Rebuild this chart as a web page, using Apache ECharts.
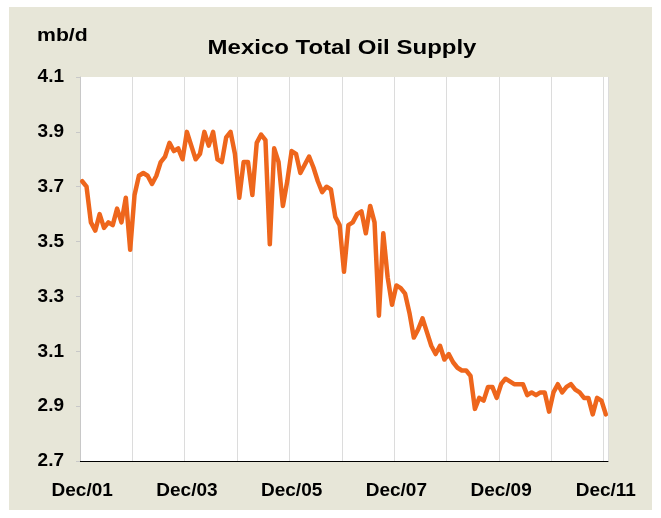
<!DOCTYPE html>
<html>
<head>
<meta charset="utf-8">
<script src="https://cdn.jsdelivr.net/npm/echarts@6/dist/echarts.min.js"></script>
<style>
  html, body { margin: 0; padding: 0; background: #fff; }
  #chart { width: 661px; height: 518px; }
</style>
</head>
<body>
<div id="chart"></div>
<script>
// monthly supply, Dec/01 .. Dec/11 (mb/d)
var supply = [
  3.72, 3.70, 3.57, 3.54, 3.60, 3.55, 3.57, 3.56, 3.62, 3.57, 3.66, 3.47,
  3.67, 3.74, 3.75, 3.74, 3.71, 3.74, 3.79, 3.81, 3.86, 3.83, 3.84, 3.80,
  3.90, 3.85, 3.80, 3.82, 3.90, 3.85, 3.90, 3.80, 3.79, 3.88, 3.90, 3.82,
  3.66, 3.79, 3.79, 3.67, 3.86, 3.89, 3.87, 3.49, 3.84, 3.79, 3.63, 3.72,
  3.83, 3.82, 3.75, 3.78, 3.81, 3.77, 3.72, 3.68, 3.70, 3.69, 3.59, 3.56,
  3.39, 3.56, 3.57, 3.60, 3.61, 3.53, 3.63, 3.57, 3.23, 3.53, 3.37, 3.27,
  3.34, 3.33, 3.31, 3.24, 3.15, 3.18, 3.22, 3.17, 3.12, 3.09, 3.12, 3.07,
  3.09, 3.06, 3.04, 3.03, 3.03, 3.01, 2.89, 2.93, 2.92, 2.97, 2.97, 2.93,
  2.98, 3.00, 2.99, 2.98, 2.98, 2.98, 2.94, 2.95, 2.94, 2.95, 2.95, 2.88,
  2.95, 2.98, 2.95, 2.97, 2.98, 2.96, 2.95, 2.93, 2.93, 2.87, 2.93, 2.92,
  2.87
];
var monthNames = ['Jan','Feb','Mar','Apr','May','Jun','Jul','Aug','Sep','Oct','Nov','Dec'];
var yTicks = [2.7, 2.9, 3.1, 3.3, 3.5, 3.7, 3.9, 4.1];

// category labels: Dec/01, Jan/02, ...
var months = [];
for (var i = 0; i < supply.length; i++) {
  var m = (11 + i) % 12;
  var yr = 1 + Math.floor((11 + i) / 12);
  months.push(monthNames[m] + '/' + (yr < 10 ? '0' + yr : '' + yr));
}

var font = '"Liberation Sans", Arial, sans-serif';
var myChart = echarts.init(document.getElementById('chart'), null, { renderer: 'canvas' });
myChart.setOption({
  backgroundColor: '#ffffff',
  animation: false,
  graphic: [
    { type: 'rect', z: -10, shape: { x: 9, y: 7, width: 643, height: 503 }, style: { fill: '#e7e6d8' } },
    { type: 'rect', z: -9, shape: { x: 80, y: 77, width: 528, height: 384 }, style: { fill: '#ffffff' } },
    // unit label
    { type: 'text', x: 37, y: 36, scaleX: 1.18,
      style: { text: 'mb/d', x: 0, y: 0, textAlign: 'left', textVerticalAlign: 'middle', font: 'bold 18px ' + font, fill: '#000' } },
    // title
    { type: 'text', x: 342, y: 48, scaleX: 1.2,
      style: { text: 'Mexico Total Oil Supply', x: 0, y: 0, textAlign: 'center', textVerticalAlign: 'middle', font: 'bold 20px ' + font, fill: '#000' } }
  ],
  grid: { left: 80, right: 53, top: 77, bottom: 57 },
  xAxis: {
    type: 'category',
    data: months,
    boundaryGap: true,
    axisLine: { lineStyle: { color: '#000', width: 1 } },
    axisTick: { interval: function (idx) { return idx % 12 === 0; }, length: 5, lineStyle: { color: '#000' } },
    axisLabel: {
      interval: function (idx) { return idx % 24 === 0; },
      margin: 20,
      fontFamily: font, fontWeight: 'bold', fontSize: 19, color: '#000'
    },
    splitLine: { show: true, interval: function (idx) { return idx % 12 === 0; }, lineStyle: { color: '#dcdcdc', width: 1 } }
  },
  yAxis: {
    type: 'value',
    min: 2.7, max: 4.1,
    axisLine: { show: true, lineStyle: { color: '#c8c8c8' } },
    axisTick: { show: true, customValues: yTicks, length: 4, lineStyle: { color: '#c8c8c8' } },
    axisLabel: {
      customValues: yTicks,
      formatter: function (v) { return v.toFixed(1); },
      margin: 16,
      fontFamily: font, fontWeight: 'bold', fontSize: 19, color: '#000'
    },
    splitLine: { show: false }
  },
  series: [{
    type: 'line',
    data: supply,
    symbol: 'none',
    lineStyle: { color: '#ee661c', width: 4.5, join: 'round', cap: 'round' }
  }]
});
</script>
</body>
</html>
